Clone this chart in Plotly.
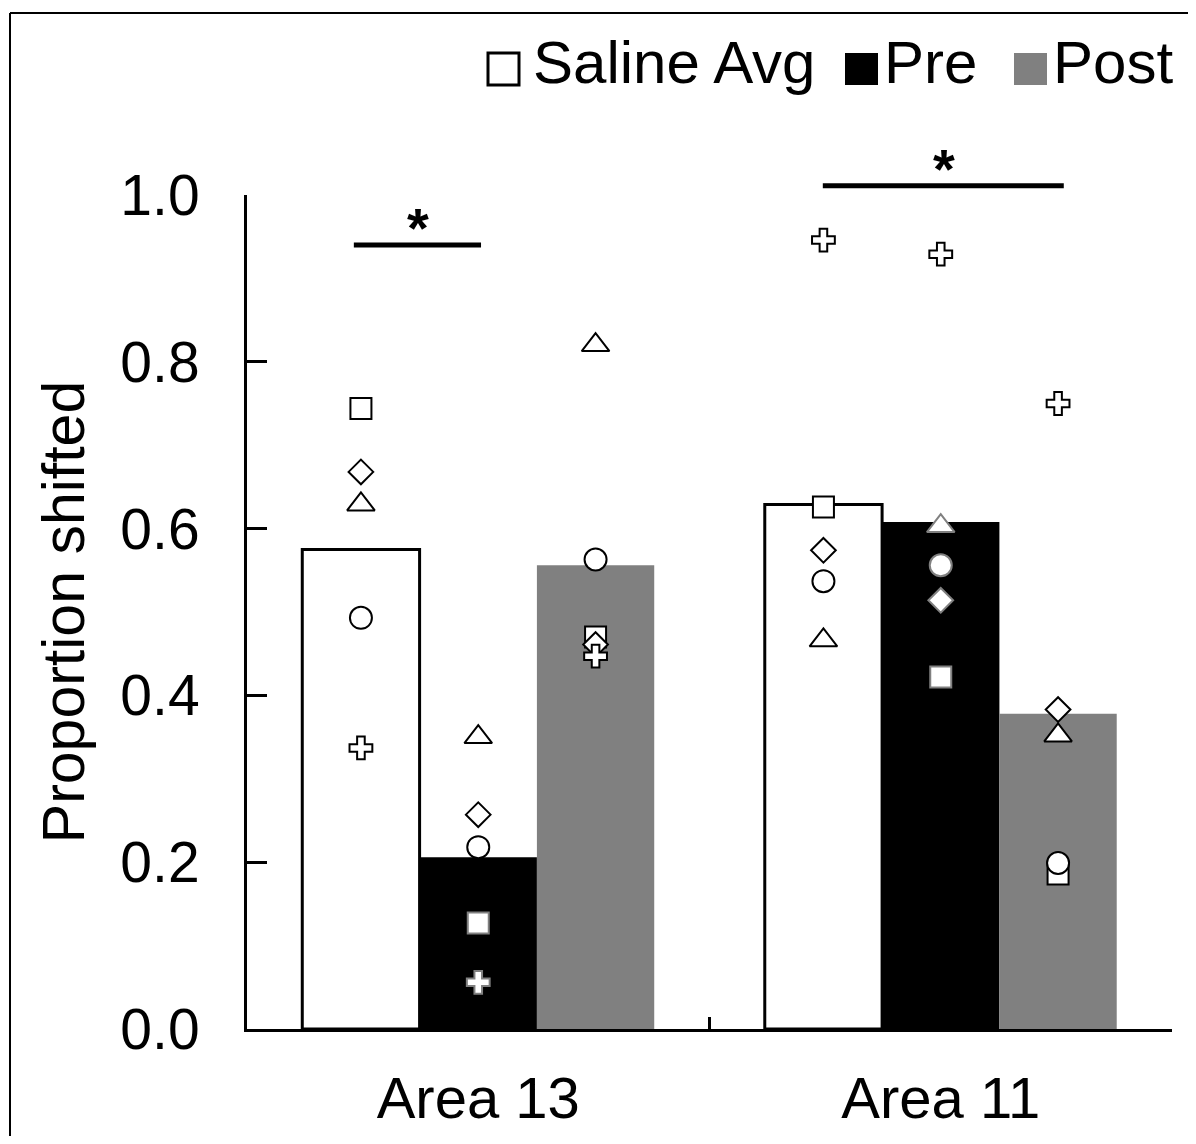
import plotly.graph_objects as go

# ---------------- data ----------------
areas = ["Area 13", "Area 11"]
y_ticks = [0.0, 0.2, 0.4, 0.6, 0.8, 1.0]

# bar heights
saline_avg = [0.575, 0.629]
pre = [0.206, 0.608]
post = [0.556, 0.378]

# individual subjects (one symbol per subject): [Area 13, Area 11]
saline_square = [0.744, 0.626]
saline_diamond = [0.668, 0.574]
saline_triangle = [0.629, 0.466]
saline_circle = [0.493, 0.537]
saline_cross = [0.337, 0.946]

pre_square = [0.127, 0.422]
pre_diamond = [0.257, 0.514]
pre_triangle = [0.350, 0.603]
pre_circle = [0.218, 0.556]
pre_cross = [0.056, 0.929]

post_square = [0.470, 0.186]
post_diamond = [0.461, 0.383]
post_triangle = [0.820, 0.352]
post_circle = [0.563, 0.199]
post_cross = [0.447, 0.750]

# ---------------- styling ----------------
FONT = "Liberation Sans, Arial, sans-serif"
BLACK = "#000000"
GRAY = "#808080"

OFF = 8                      # default page (body) margin
W, H = 1196 - 2 * OFF, 1144 - 2 * OFF
L, R, T, B = 239, 16, 187, 107
PW, PH = W - L - R, H - T - B


def px_x(sx):
    """screen x pixel -> paper coordinate"""
    return (sx - OFF - L) / PW


def px_y(sy):
    """screen y pixel -> paper coordinate"""
    return (H - B - (sy - OFF)) / PH


sym = {
    "square": ("square", 21),
    "diamond": ("diamond", 19),
    "triangle": ("triangle-up", 24),
    "circle": ("circle", 22),
    "cross": ("cross", 19),
}

conditions = [
    ("Saline Avg", saline_avg, "white", 3,
     {"square": saline_square, "diamond": saline_diamond, "triangle": saline_triangle,
      "circle": saline_circle, "cross": saline_cross},
     {"square": [BLACK, BLACK], "diamond": [BLACK, BLACK], "triangle": [BLACK, BLACK],
      "circle": [BLACK, BLACK], "cross": [BLACK, BLACK]}),
    ("Pre", pre, BLACK, 0,
     {"square": pre_square, "diamond": pre_diamond, "triangle": pre_triangle,
      "circle": pre_circle, "cross": pre_cross},
     {"square": [GRAY, GRAY], "diamond": [BLACK, GRAY], "triangle": [BLACK, GRAY],
      "circle": [BLACK, GRAY], "cross": [GRAY, BLACK]}),
    ("Post", post, GRAY, 0,
     {"square": post_square, "diamond": post_diamond, "triangle": post_triangle,
      "circle": post_circle, "cross": post_cross},
     {"square": [BLACK, BLACK], "diamond": [BLACK, BLACK], "triangle": [BLACK, BLACK],
      "circle": [BLACK, BLACK], "cross": [BLACK, BLACK]}),
]

fig = go.Figure()

for name, vals, fill, lw, _, _ in conditions:
    fig.add_trace(go.Bar(
        x=areas, y=vals, name=name, offsetgroup=name,
        marker=dict(color=fill, line=dict(color=BLACK, width=lw)),
        showlegend=False,
    ))

for name, _, _, _, pts, lcols in conditions:
    for subj in ["square", "diamond", "triangle", "circle", "cross"]:
        s, size = sym[subj]
        fig.add_trace(go.Scatter(
            x=areas, y=pts[subj], mode="markers", offsetgroup=name,
            marker=dict(symbol=s, size=size, color="white",
                        line=dict(color=lcols[subj], width=2)),
            cliponaxis=False, showlegend=False,
        ))

shapes = []
annotations = []

# significance bars (x in category units, y in paper == data since range [0,1])
for x0, x1, yv, xs, sy in [(-0.269, 0.006, 0.940, -0.130, 228),
                          (0.745, 1.266, 1.011, 1.007, 169)]:
    shapes.append(dict(type="line", xref="x", yref="paper", x0=x0, x1=x1, y0=yv, y1=yv,
                       line=dict(color=BLACK, width=5)))
    annotations.append(dict(text="<b>*</b>", xref="x", yref="paper", x=xs, y=px_y(sy),
                            showarrow=False, xanchor="center", yanchor="middle",
                            font=dict(family=FONT, size=56, color=BLACK)))

# custom legend
leg_y0, leg_y1 = px_y(85), px_y(53)
for (x0p, x1p, fill, lw), (label, tx) in zip(
        [(488, 519, "white", 3), (845, 878, BLACK, 0), (1014, 1047, GRAY, 0)],
        [("Saline Avg", 531), ("Pre", 882), ("Post", 1051)]):
    shapes.append(dict(type="rect", xref="paper", yref="paper",
                       x0=px_x(x0p), x1=px_x(x1p), y0=leg_y0, y1=leg_y1,
                       fillcolor=fill, line=dict(color=BLACK, width=lw)))
    annotations.append(dict(text=label, xref="paper", yref="paper", x=px_x(tx), y=px_y(62),
                            showarrow=False, xanchor="left", yanchor="middle",
                            font=dict(family=FONT, size=60, color=BLACK)))

# outer frame (top and left edges)
shapes.append(dict(type="line", xref="paper", yref="paper", x0=px_x(10), x1=px_x(1210),
                   y0=px_y(13), y1=px_y(13), line=dict(color=BLACK, width=2)))
shapes.append(dict(type="line", xref="paper", yref="paper", x0=px_x(10), x1=px_x(10),
                   y0=px_y(13), y1=px_y(1160), line=dict(color=BLACK, width=2)))

fig.update_layout(
    width=W, height=H,
    margin=dict(l=L, r=R, t=T, b=B, autoexpand=False),
    paper_bgcolor="white", plot_bgcolor="white",
    barmode="group", bargap=0.239, bargroupgap=0,
    scattermode="group", scattergap=0.239,
    font=dict(family=FONT, color=BLACK),
    shapes=shapes, annotations=annotations,
    showlegend=False,
)

fig.update_xaxes(
    type="category", range=[-0.5, 1.5], automargin=False,
    showline=True, linewidth=3, linecolor=BLACK,
    ticks="inside", tickson="boundaries", ticklen=12, tickwidth=3, tickcolor=BLACK,
    tickfont=dict(family=FONT, size=58, color=BLACK),
    ticklabelstandoff=16,
    showgrid=False, zeroline=False,
)

fig.update_yaxes(
    range=[0, 1.0], tickvals=y_ticks, tickformat=".1f", automargin=False,
    showline=True, linewidth=3, linecolor=BLACK,
    ticks="inside", ticklen=20, tickwidth=3, tickcolor=BLACK,
    tickfont=dict(family=FONT, size=57, color=BLACK),
    ticklabelstandoff=33,
    title=dict(text="Proportion shifted", font=dict(family=FONT, size=59, color=BLACK), standoff=17),
    showgrid=False, zeroline=False,
)

fig.write_html("out.html")
